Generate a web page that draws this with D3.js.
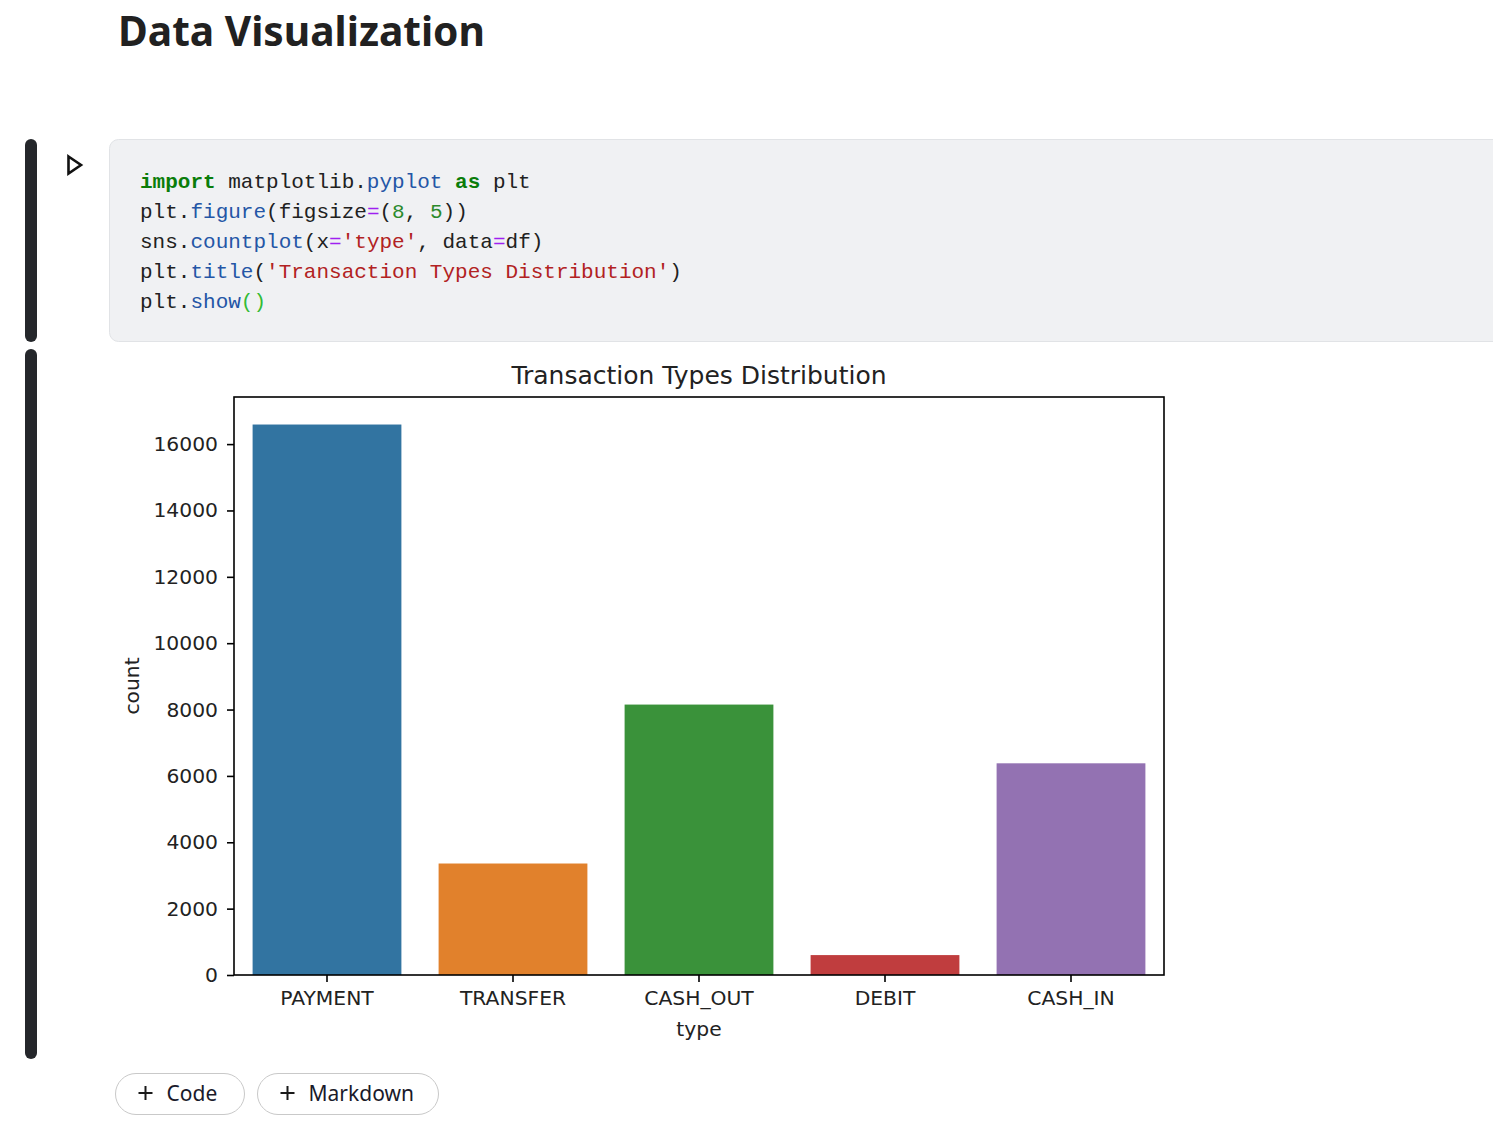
<!DOCTYPE html>
<html>
<head>
<meta charset="utf-8">
<script src="https://cdn.jsdelivr.net/npm/d3@7"></script>
<style>
  html, body { margin: 0; padding: 0; background: #ffffff; }
  svg text { font-kerning: normal; }
</style>
</head>
<body>
<svg id="page" width="1493" height="1126"></svg>
<script>
// ---------- data ----------
const categories = ["PAYMENT", "TRANSFER", "CASH_OUT", "DEBIT", "CASH_IN"];
const counts = [16590, 3360, 8150, 600, 6380];
const barColors = ["#3274a1", "#e1812c", "#3a923a", "#c03d3e", "#9372b2"];
const yTicks = [0, 2000, 4000, 6000, 8000, 10000, 12000, 14000, 16000];
const chartTitle = "Transaction Types Distribution";
const xLabel = "type";
const yLabel = "count";
const headingText = "Data Visualization";
const codeLines = [
  [["import", "kw"], [" matplotlib.", "tx"], ["pyplot", "fn"], [" ", "tx"], ["as", "kw"], [" plt", "tx"]],
  [["plt.", "tx"], ["figure", "fn"], ["(figsize", "tx"], ["=", "op"], ["(", "tx"], ["8", "num"], [", ", "tx"], ["5", "num"], ["))", "tx"]],
  [["sns.", "tx"], ["countplot", "fn"], ["(x", "tx"], ["=", "op"], ["'type'", "str"], [", data", "tx"], ["=", "op"], ["df)", "tx"]],
  [["plt.", "tx"], ["title", "fn"], ["(", "tx"], ["'Transaction Types Distribution'", "str"], [")", "tx"]],
  [["plt.", "tx"], ["show", "fn"], ["()", "par"]]
];

const svg = d3.select("#page");
const sans = "'Noto Sans', 'Open Sans', sans-serif";
const mpl = "'DejaVu Sans', sans-serif";
const mono = "'Liberation Mono', 'DejaVu Sans Mono', monospace";

// ---------- heading ----------
svg.append("text").attr("x", 118).attr("y", 46)
  .attr("font-family", sans).attr("font-weight", 700).attr("font-size", 42)
  .attr("fill", "#212121")
  .attr("textLength", 367).attr("lengthAdjust", "spacingAndGlyphs")
  .text(headingText);

// ---------- code cell ----------
svg.append("rect").attr("x", 25).attr("y", 139).attr("width", 12).attr("height", 203)
  .attr("rx", 6).attr("fill", "#25272b");
svg.append("rect").attr("x", 109.5).attr("y", 139.5).attr("width", 1420).attr("height", 202)
  .attr("rx", 9).attr("fill", "#f0f1f3").attr("stroke", "#e1e3e6");
svg.append("path").attr("d", "M68.5,156.5 L81,165 L68.5,173.5 Z")
  .attr("fill", "none").attr("stroke", "#111").attr("stroke-width", 2.6).attr("stroke-linejoin", "miter");

const codeColors = { kw: "#0a7d0a", tx: "#212121", fn: "#2456a6", op: "#a020f0", num: "#2b8a2b", str: "#b22222", par: "#33bb33" };
codeLines.forEach((line, i) => {
  const t = svg.append("text").attr("x", 140).attr("y", 188 + i * 30)
    .attr("font-family", mono).attr("font-size", 21)
    .attr("xml:space", "preserve").style("white-space", "pre");
  line.forEach(([s, k]) => {
    t.append("tspan").attr("fill", codeColors[k])
      .attr("font-weight", k === "kw" ? 700 : 400).text(s);
  });
});

// ---------- output cell ----------
svg.append("rect").attr("x", 25).attr("y", 349).attr("width", 12).attr("height", 710)
  .attr("rx", 6).attr("fill", "#25272b");

// ---------- chart ----------
const plot = { left: 234, right: 1164, top: 397, bottom: 975 };
const x = d3.scaleBand().domain(categories).range([plot.left, plot.right]).paddingInner(0.2).paddingOuter(0.1);
const yMax = d3.max(counts) * 1.05;
const y = d3.scaleLinear().domain([0, yMax]).range([plot.bottom, plot.top]);

const g = svg.append("g");
g.selectAll("rect.bar").data(categories).join("rect").attr("class", "bar")
  .attr("x", d => x(d)).attr("width", x.bandwidth())
  .attr("y", (d, i) => y(counts[i])).attr("height", (d, i) => y(0) - y(counts[i]))
  .attr("fill", (d, i) => barColors[i]);

// frame
g.append("rect").attr("x", plot.left).attr("y", plot.top)
  .attr("width", plot.right - plot.left).attr("height", plot.bottom - plot.top)
  .attr("fill", "none").attr("stroke", "#000").attr("stroke-width", 1.6);

// y axis
const yAxis = d3.axisLeft(y).tickValues(yTicks).tickSize(7).tickPadding(9).tickFormat(d3.format("d"));
const ya = g.append("g").attr("transform", `translate(${plot.left},0)`).call(yAxis);
ya.select(".domain").remove();
ya.selectAll(".tick line").attr("stroke", "#000").attr("stroke-width", 1.6);
ya.selectAll(".tick text").attr("font-family", mpl).attr("font-size", 20.3).attr("fill", "#222");

// x axis
const xAxis = d3.axisBottom(x).tickSize(7).tickPadding(9);
const xa = g.append("g").attr("transform", `translate(0,${plot.bottom})`).call(xAxis);
xa.select(".domain").remove();
xa.selectAll(".tick line").attr("stroke", "#000").attr("stroke-width", 1.6);
xa.selectAll(".tick text").attr("font-family", mpl).attr("font-size", 20.3).attr("fill", "#222");

// labels
svg.append("text").attr("x", (plot.left + plot.right) / 2).attr("y", 384)
  .attr("text-anchor", "middle").attr("font-family", mpl).attr("font-size", 25).attr("fill", "#222")
  .text(chartTitle);
svg.append("text").attr("x", (plot.left + plot.right) / 2).attr("y", 1036)
  .attr("text-anchor", "middle").attr("font-family", mpl).attr("font-size", 20.3).attr("fill", "#222")
  .text(xLabel);
svg.append("text").attr("transform", `translate(139,${(plot.top + plot.bottom) / 2}) rotate(-90)`)
  .attr("text-anchor", "middle").attr("font-family", mpl).attr("font-size", 20.3).attr("fill", "#222")
  .text(yLabel);

// ---------- buttons ----------
const buttons = [
  { x: 115.5, w: 129, label: "Code" },
  { x: 257.5, w: 181, label: "Markdown" }
];
buttons.forEach(b => {
  svg.append("rect").attr("x", b.x).attr("y", 1073.5).attr("width", b.w).attr("height", 41)
    .attr("rx", 20.5).attr("fill", "#fff").attr("stroke", "#c9c9c9");
  const px = b.x + 30;
  svg.append("path").attr("d", `M${px - 7},1093 H${px + 7} M${px},1086 V1100`)
    .attr("stroke", "#1a1a1a").attr("stroke-width", 2);
  svg.append("text").attr("x", b.x + 51).attr("y", 1100.5)
    .attr("font-family", sans).attr("font-size", 21).attr("fill", "#1a1a2a")
    .text(b.label);
});
</script>
</body>
</html>
